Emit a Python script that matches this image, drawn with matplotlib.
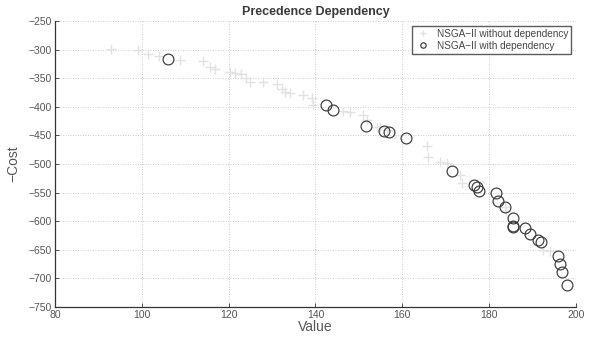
import numpy as np
import matplotlib
matplotlib.use('Agg')
import matplotlib.pyplot as plt

plt.rcParams['font.family'] = ['Liberation Sans', 'DejaVu Sans']

# NSGA-II front without the precedence constraint
valueFree = [93.0, 99.2, 101.5, 104.0, 108.9, 114.2, 115.7, 116.8, 120.3, 121.5,
             122.8, 124.1, 124.9, 128.0, 131.2, 132.2, 133.0, 134.1, 137.2, 139.1,
             139.5, 146.4, 148.0, 151.0, 151.8, 154.1, 154.9, 156.4, 165.6, 165.9,
             168.7, 170.2, 173.3, 173.7, 183.6, 184.0, 192.5, 194.0]
costFree = [-299, -301, -307, -312, -319, -320, -331, -334, -339, -341,
            -343, -349, -356, -357, -360, -369, -374, -376, -379, -385,
            -397, -408, -409, -414, -423, -436, -435, -441, -468, -488,
            -496, -498, -519, -534, -575, -583, -650, -653]

# NSGA-II front with the precedence constraint
valueDep = [106.0, 142.4, 144.0, 151.6, 155.8, 156.9, 160.8, 171.5, 176.6, 177.1,
            177.7, 181.7, 182.1, 183.6, 185.4, 185.5, 185.6, 188.2, 189.5, 191.3,
            192.0, 195.9, 196.3, 196.8, 198.0]
costDep = [-316, -397, -405, -433, -442, -445, -454, -513, -536, -540,
           -548, -550, -565, -575, -594, -608, -610, -612, -622, -633,
           -637, -661, -674, -688, -712]

xTicks = [80, 100, 120, 140, 160, 180, 200]
yTicks = [-750, -700, -650, -600, -550, -500, -450, -400, -350, -300, -250]

textCol = '#3a3a3a'

fig = plt.figure(figsize=(5.94, 3.43), dpi=100)
ax = fig.add_axes([0.0926, 0.105, 0.877, 0.834])

ax.plot(valueFree, costFree, '+', color='#e2e2e2', markersize=7.5,
        markeredgewidth=1.0, label='NSGA\u2212II without dependency')
ax.plot(valueDep, costDep, 'o', markerfacecolor='none', markeredgecolor='#3a3a3a',
        markersize=7.8, markeredgewidth=0.85, label='NSGA\u2212II with dependency')

ax.set_xlim(80, 200)
ax.set_ylim(-750, -250)
ax.set_xticks(xTicks)
ax.set_yticks(yTicks)
ax.grid(True, linestyle=(0, (1, 2)), color='#bdbdbd', linewidth=0.6)
ax.set_axisbelow(True)

for side in ['top', 'right']:
    ax.spines[side].set_visible(False)
for side in ['left', 'bottom']:
    ax.spines[side].set_color('#333333')
    ax.spines[side].set_linewidth(0.9)
ax.tick_params(direction='in', length=3, width=0.6, colors='#333333',
               labelsize=7.5, labelcolor='#555555', pad=2)

ax.set_title('Precedence Dependency', fontsize=9, fontweight='bold',
             color=textCol, pad=4)
ax.set_xlabel('Value', fontsize=10, color='#555555', labelpad=0)
ax.set_ylabel('\u2212Cost', fontsize=10, color='#555555', labelpad=6)

leg = ax.legend(loc='upper right', fontsize=7.2, frameon=True, fancybox=False,
                borderpad=0.3, handletextpad=0.6, labelspacing=0.2,
                handlelength=1.6, markerscale=0.5, bbox_to_anchor=(1.0, 1.0))
leg.get_frame().set_edgecolor('#333333')
leg.get_frame().set_linewidth(1.0)
for t in leg.get_texts():
    t.set_color('#444444')

fig.savefig('out.png', dpi=100)
